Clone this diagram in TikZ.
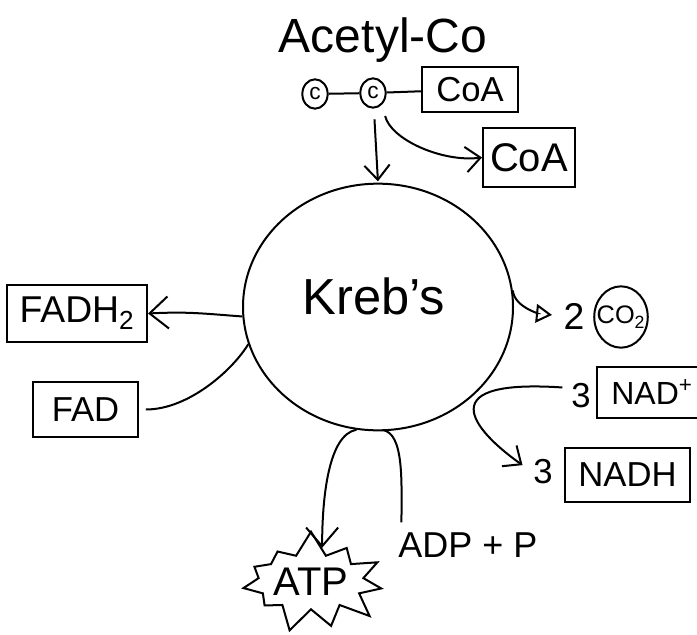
\documentclass[tikz,border=0pt]{standalone}
\usepackage{fontspec}
\setmainfont{Liberation Sans}
\usetikzlibrary{arrows.meta,shapes.geometric,shapes.symbols}

\begin{document}
\begin{tikzpicture}[x=0.75pt,y=-0.75pt,
  line width=1.5pt,
  box/.style={draw, rectangle, inner sep=0pt},
  lbl/.style={inner sep=0pt},
  carbon/.style={draw, ellipse, inner sep=0pt, minimum width=19pt, minimum height=22pt,
    font=\fontsize{17}{17}\selectfont},
  vee/.style={-{Straight Barb[length=11pt,width=19pt]}},
  bigvee/.style={-{Straight Barb[length=14pt,width=24pt]}},
  tri/.style={-{Triangle[open,length=12pt,width=14pt]}},
  fs/.style={font=\fontsize{#1}{#1}\selectfont},
]
\useasboundingbox (0,0) rectangle (697,635);
\clip (0,0) rectangle (697,635);

% acetyl-CoA entering the cycle
\node[lbl, fs=36] (title) at (383,40) {Acetyl-Co};
\node[carbon] (c1) at (315,94) {c};
\node[carbon] (c2) at (373,93) {c};
\node[box, fs=26, minimum width=72pt, minimum height=34pt] (coa1) at (470,89.5) {CoA};
\node[box, fs=30, minimum width=69pt, minimum height=44pt] (coa2) at (529,157.5) {CoA};
\draw (c1) -- (c2);
\draw (c2) -- (coa1);

% the cycle
\node[draw, ellipse, inner sep=0pt, minimum width=202.5pt, minimum height=185pt] (krebs) at (378,307) {};
\node[lbl, fs=38] (krebslabel) at (374,296) {Kreb's};

\draw[vee, shorten <=8pt, shorten >=1pt] (c2) -- (krebs.north);
\draw[vee, shorten <=9pt] (c2.-50) .. controls +(8,35) and +(-40,5) .. (coa2.west);

% FAD / FADH2
\node[box, fs=28, minimum width=105pt, minimum height=43pt] (fadh) at (77,313.5) {FADH\textsubscript{2}};
\node[box, fs=26, minimum width=79pt, minimum height=41pt] (fad) at (85.5,409.5) {FAD};
\draw[bigvee] (krebs.184) .. controls +(-40,-3) and +(40,-2) .. (fadh.east);
\draw[shorten <=5pt] (fad.east) .. controls +(50,0) and +(-15,25) .. (krebs.196);

% carbon dioxide
\node[lbl, fs=28] (two) at (574,316) {2};
\node[draw, ellipse, inner sep=-4pt, minimum width=40pt, minimum height=46pt, fs=19] (co2) at (621,317) {CO\textsubscript{2}};
\draw[tri, shorten >=8pt] (krebs.7) .. controls +(2,18) and +(-20,-2) .. (two.west);

% NAD+ / NADH
\node[lbl, fs=26] (three1) at (581,396) {3};
\node[box, fs=24, minimum width=82.5pt, minimum height=38pt] (nadp) at (652,392.5) {NAD\textsuperscript{+}};
\node[lbl, fs=26] (three2) at (543,472) {3};
\node[box, fs=26, minimum width=94pt, minimum height=40pt] (nadh) at (627.5,475) {NADH};
\draw[vee, shorten <=6pt, shorten >=9pt] ([yshift=6pt]three1.west) .. controls +(-150,-10) and +(-50,-35) .. (three2.west);

% ADP + P / ATP
\node[lbl, fs=27] (adp) at (468,545) {ADP + P};
\node[draw, starburst, starburst points=11, starburst point height=19pt, random starburst=7,
  inner sep=0pt, minimum width=104pt, minimum height=79pt, fs=30] (atp) at (311,582) {ATP};
\draw[bigvee] (krebs.-100) .. controls +(-28,5) and +(0,-50) .. (atp.72);
\draw ([yshift=1pt]krebs.-88) .. controls +(22,3) and +(0,-40) .. ([xshift=3pt,yshift=7pt]adp.north west);
\end{tikzpicture}
\end{document}
